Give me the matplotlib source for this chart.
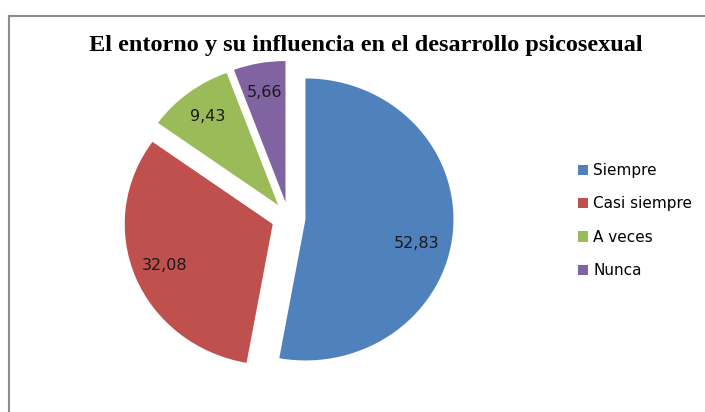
import numpy as np
import matplotlib
matplotlib.use("Agg")
import matplotlib.pyplot as plt
from matplotlib.lines import Line2D
from matplotlib.patches import Patch

categories = ["Siempre", "Casi siempre", "A veces", "Nunca"]
values = [52.83, 32.08, 9.43, 5.66]
value_labels = ["52,83", "32,08", "9,43", "5,66"]
colors = ["#4F81BD", "#C0504D", "#9BBB59", "#8064A2"]
title = "El entorno y su influencia en el desarrollo psicosexual"

W, H = 705, 412
fig = plt.figure(figsize=(W / 100, H / 100), dpi=100)

# pie centre ~ (288.5, 218) px, radii 148 x 141 px
cx, cy, rx, ry = 288.5, 218.0, 148.0, 141.0
lim = 1.2
ax_w, ax_h = 2 * lim * rx, 2 * lim * ry
ax = fig.add_axes([(cx - ax_w / 2) / W, (H - cy - ax_h / 2) / H, ax_w / W, ax_h / H])

explode = [0.115] * len(values)
wedges, texts = ax.pie(values, colors=colors, startangle=90, counterclock=False,
                       explode=explode, labels=None, radius=1.0,
                       wedgeprops=dict(linewidth=0))
ax.set_aspect("auto")
ax.set_xlim(-lim, lim)
ax.set_ylim(-lim, lim)
ax.axis("off")

# value labels placed inside each wedge (Excel "best fit" nudges the big one)
angle_nudge = {0: -7.5}
for i, (w, lab) in enumerate(zip(wedges, value_labels)):
    mid = np.deg2rad((w.theta1 + w.theta2) / 2 + angle_nudge.get(i, 0))
    ox, oy = w.center
    r = 0.77 if i == 0 else 0.79
    ax.text(ox + r * np.cos(mid), oy + r * np.sin(mid), lab,
            ha="center", va="center", fontsize=11.5, color="#1a1a1a",
            family="DejaVu Sans")

fig.text(366 / W, 1 - 45 / H, title, ha="center", va="center",
         fontsize=17.5, fontweight="bold", family="Liberation Serif")

handles = [Patch(facecolor=c, edgecolor="none") for c in colors]
leg = fig.legend(handles, categories, loc="upper left",
                 bbox_to_anchor=(572 / W, 1 - 157 / H), frameon=False,
                 prop=dict(family="DejaVu Sans", size=11),
                 handlelength=0.65, handleheight=0.65, handletextpad=0.35,
                 labelspacing=1.2, borderaxespad=0)

# chart frame (left and top edges visible)
fig.add_artist(Line2D([8.5 / W, 8.5 / W], [0, 1 - 16 / H], color="#8c8c8c", lw=1.5,
                      transform=fig.transFigure))
fig.add_artist(Line2D([8.5 / W, 1], [1 - 16 / H, 1 - 16 / H], color="#8c8c8c", lw=1.5,
                      transform=fig.transFigure))

fig.savefig("out.png", dpi=100, facecolor="white")
